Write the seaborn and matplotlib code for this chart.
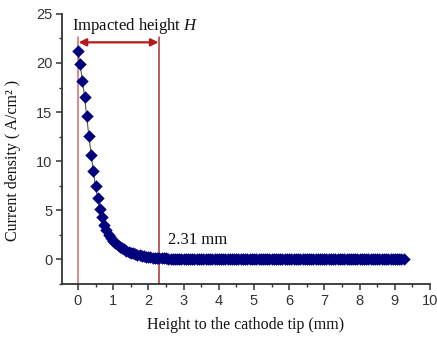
import matplotlib
matplotlib.use("Agg")
import matplotlib.pyplot as plt
import seaborn as sns
import pandas as pd
from matplotlib.ticker import MultipleLocator

# ---- data ----
height_mm = [
    0.00, 0.06, 0.13, 0.19, 0.25, 0.31, 0.38, 0.44, 0.50, 0.56, 0.63, 0.69, 0.75, 0.81, 0.88, 0.94,
    1.00, 1.06, 1.13, 1.19, 1.25, 1.31, 1.38, 1.44, 1.50, 1.56, 1.63, 1.69, 1.75, 1.81, 1.88, 1.94,
    2.00, 2.06, 2.13, 2.19, 2.25, 2.31, 2.38, 2.44, 2.50, 2.56, 2.63, 2.69, 2.75, 2.81, 2.88, 2.94,
    3.00, 3.06, 3.13, 3.19, 3.25, 3.31, 3.38, 3.44, 3.50, 3.56, 3.63, 3.69, 3.75, 3.81, 3.88, 3.94,
    4.00, 4.06, 4.13, 4.19, 4.25, 4.31, 4.38, 4.44, 4.50, 4.56, 4.63, 4.69, 4.75, 4.81, 4.88, 4.94,
    5.00, 5.06, 5.13, 5.19, 5.25, 5.31, 5.38, 5.44, 5.50, 5.56, 5.63, 5.69, 5.75, 5.81, 5.88, 5.94,
    6.00, 6.06, 6.13, 6.19, 6.25, 6.31, 6.38, 6.44, 6.50, 6.56, 6.63, 6.69, 6.75, 6.81, 6.88, 6.94,
    7.00, 7.06, 7.13, 7.19, 7.25, 7.31, 7.38, 7.44, 7.50, 7.56, 7.63, 7.69, 7.75, 7.81, 7.88, 7.94,
    8.00, 8.06, 8.13, 8.19, 8.25, 8.31, 8.38, 8.44, 8.50, 8.56, 8.63, 8.69, 8.75, 8.81, 8.88, 8.94,
    9.00, 9.06, 9.13, 9.19, 9.25,
]
current_density = [
    21.2, 19.9, 18.2, 16.5, 14.6, 12.6, 10.6, 8.95, 7.45, 6.2, 5.1, 4.3, 3.55, 2.95, 2.5, 2.15,
    1.9, 1.68, 1.48, 1.31, 1.15, 1.01, 0.89, 0.78, 0.69, 0.6, 0.53, 0.47, 0.41, 0.36, 0.32, 0.28,
    0.25, 0.22, 0.19, 0.17, 0.15, 0.13, 0.11, 0.10, 0.09, 0.08, 0.07, 0.06, 0.05, 0.05, 0.04, 0.04,
    0.03, 0.03, 0.03, 0.02, 0.02, 0.02, 0.02, 0.01, 0.01, 0.01, 0.01, 0.01, 0.01, 0.0, 0.0, 0.0,
    0.0, 0.0, 0.0, 0.0, 0.0, 0.0, 0.0, 0.0, 0.0, 0.0, 0.0, 0.0, 0.0, 0.0, 0.0, 0.0,
    0.0, 0.0, 0.0, 0.0, 0.0, 0.0, 0.0, 0.0, 0.0, 0.0, 0.0, 0.0, 0.0, 0.0, 0.0, 0.0,
    0.0, 0.0, 0.0, 0.0, 0.0, 0.0, 0.0, 0.0, 0.0, 0.0, 0.0, 0.0, 0.0, 0.0, 0.0, 0.0,
    0.0, 0.0, 0.0, 0.0, 0.0, 0.0, 0.0, 0.0, 0.0, 0.0, 0.0, 0.0, 0.0, 0.0, 0.0, 0.0,
    0.0, 0.0, 0.0, 0.0, 0.0, 0.0, 0.0, 0.0, 0.0, 0.0, 0.0, 0.0, 0.0, 0.0, 0.0, 0.0,
    0.0, 0.0, 0.0, 0.0, 0.0,
]
impacted_height = 2.31
x_ticks = [0, 1, 2, 3, 4, 5, 6, 7, 8, 9, 10]
y_ticks = [0, 5, 10, 15, 20, 25]

df = pd.DataFrame({"h": height_mm, "j": current_density})

sns.set_style("ticks")
plt.rcParams["font.family"] = ["Liberation Sans", "DejaVu Sans"]
plt.rcParams["mathtext.fontset"] = "custom"
plt.rcParams["mathtext.it"] = "Liberation Serif:italic"
plt.rcParams["mathtext.rm"] = "Liberation Serif"

fig = plt.figure(figsize=(4.37, 3.38), dpi=100)
ax = fig.add_axes([0.142, 0.160, 0.842, 0.799])

sns.lineplot(data=df, x="h", y="j", ax=ax, color="#555555", lw=0.8, zorder=2)
sns.scatterplot(data=df, x="h", y="j", ax=ax, marker="D", s=36, color="#00007f",
                edgecolor="#00007f", linewidth=0.3, zorder=3)

# impacted-height markers
ax.plot([0, 0], [-2.5, 22.6], color="#d46a6a", lw=1.1, zorder=1)
ax.plot([impacted_height, impacted_height], [-2.5, 22.6], color="#a83232", lw=1.1, zorder=1)
ax.annotate("", xy=(0.02, 22.1), xytext=(impacted_height - 0.02, 22.1),
            arrowprops=dict(arrowstyle="<|-|>", color="#b01c1c", lw=1.6,
                            mutation_scale=11, shrinkA=0, shrinkB=0))

serif = ["Liberation Serif", "DejaVu Serif"]
ax.text(-0.17, 23.8, "Impacted height $H$", family=serif, fontsize=12,
        ha="left", va="center", color="#111111")
ax.text(2.56, 2.0, "2.31 mm", family=serif, fontsize=12, ha="left", va="center", color="#111111")

ax.set_xlim(-0.45, 10)
ax.set_ylim(-2.5, 25)
ax.set_xticks(x_ticks)
ax.set_yticks(y_ticks)
ax.xaxis.set_minor_locator(MultipleLocator(0.5))
ax.yaxis.set_minor_locator(MultipleLocator(2.5))
ax.tick_params(which="major", direction="out", length=4, width=1.1, colors="#333333",
               labelsize=10.5, labelcolor="#333333", pad=3)
ax.tick_params(which="minor", direction="out", length=2.5, width=1.0, colors="#333333")

ax.set_xlabel("Height to the cathode tip (mm)", family=serif, fontsize=11.5, labelpad=7,
              color="#111111")
ax.set_ylabel("Current density ( A/cm² )", family=serif, fontsize=11.5,
              color="#111111")
ax.yaxis.set_label_coords(-0.111, 0.457)

sns.despine(ax=ax)
for s in ("left", "bottom"):
    ax.spines[s].set_linewidth(1.3)
    ax.spines[s].set_color("#333333")

fig.savefig("out.png", dpi=100)
